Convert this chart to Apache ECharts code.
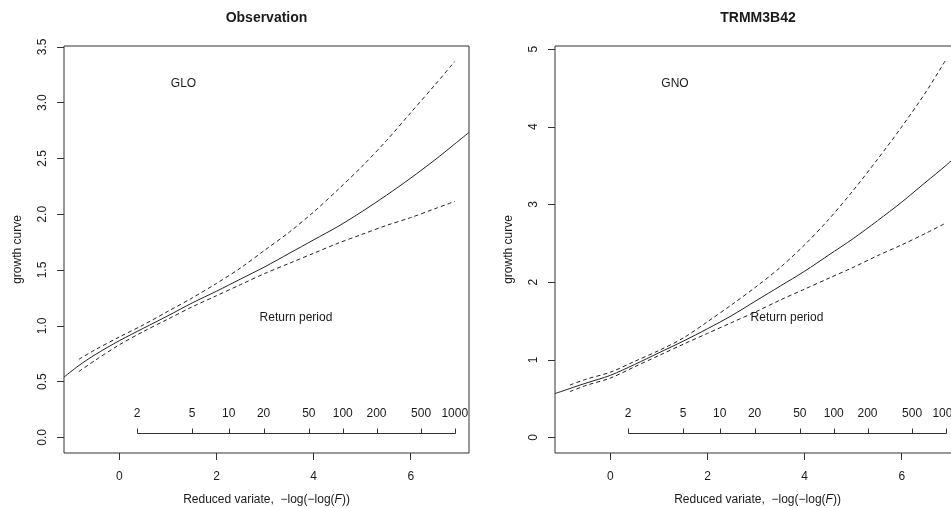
<!DOCTYPE html>
<html>
<head>
<meta charset="utf-8">
<script src="https://cdn.jsdelivr.net/npm/echarts@6/dist/echarts.min.js"></script>
<style>
html,body{margin:0;padding:0;background:#fff;}
#c{width:951px;height:508px;}
</style>
</head>
<body>
<div id="c"></div>
<script>
// ---- data ----
const xSolid = [-1.14,-0.834,-0.5,0,0.5,1,1.5,2,2.5,3,3.5,4,4.5,5,5.5,6,6.5,6.907,7.2];
const xBand  = [-0.834,-0.5,0,0.5,1,1.5,2,2.5,3,3.5,4,4.5,5,5.5,6,6.5,6.907];

const obsSolid = [0.54,0.644,0.741,0.867,0.979,1.09,1.205,1.31,1.42,1.53,1.65,1.77,1.89,2.025,2.17,2.324,2.488,2.63,2.734];
const obsUpper = [0.70,0.785,0.90,1.01,1.13,1.25,1.38,1.52,1.68,1.84,2.02,2.22,2.43,2.66,2.91,3.16,3.37];
const obsLower = [0.59,0.69,0.83,0.95,1.06,1.17,1.27,1.37,1.47,1.56,1.65,1.74,1.82,1.90,1.97,2.05,2.115];

const trmSolid = [0.565,0.63,0.70,0.80,0.94,1.09,1.24,1.40,1.57,1.76,1.95,2.14,2.35,2.56,2.79,3.03,3.29,3.50,3.67];
const trmUpper = [0.675,0.75,0.84,0.98,1.12,1.28,1.49,1.71,1.94,2.19,2.48,2.81,3.18,3.58,4.00,4.45,4.86];
const trmLower = [0.59,0.67,0.765,0.91,1.055,1.20,1.34,1.48,1.62,1.77,1.91,2.05,2.19,2.34,2.48,2.63,2.76];

const returnPeriods = [2,5,10,20,50,100,200,500,1000];
const xTicks = [0,2,4,6];
const yTicksObs = [0,0.5,1,1.5,2,2.5,3,3.5];
const yTicksTrm = [0,1,2,3,4,5];

const titles = ['Observation','TRMM3B42'];
const distNames = ['GLO','GNO'];
const rpLabel = 'Return period';
const yName = 'growth curve';

// ---- build ----
const FONT = 'Liberation Sans, Arial, sans-serif';
const TXT = '#1a1a1a';
const LINE = '#222';
const zip = (a,b) => a.map((v,i)=>[v,b[i]]);
const rpX = returnPeriods.map(T => -Math.log(-Math.log(1 - 1/T)));
const rpData = returnPeriods.map((T,i)=>[rpX[i], T]);

const grids = [
  {left:64, top:46, width:405, height:407, show:true, borderColor:'#333', borderWidth:1, backgroundColor:'transparent', outerBoundsMode:'none', containLabel:false},
  {left:555, top:46, width:405, height:407, show:true, borderColor:'#333', borderWidth:1, backgroundColor:'transparent', outerBoundsMode:'none', containLabel:false}
];
const yRanges = [[-0.14,3.508],[-0.20,5.04]];

function xAxisFor(i){
  return {
    type:'value', gridIndex:i, min:-1.14, max:7.2,
    splitLine:{show:false}, axisLine:{show:false, onZero:false},
    axisTick:{show:true, customValues:xTicks, length:7, lineStyle:{color:'#333'}},
    axisLabel:{customValues:xTicks, margin:18, fontSize:12, color:TXT, fontFamily:FONT},
    name:'{a|Reduced variate,  \u2212log(\u2212log(}{i|F}{a|))}', nameLocation:'middle', nameGap:41,
    nameTextStyle:{rich:{a:{fontSize:12,color:TXT,fontFamily:FONT}, i:{fontSize:12,color:TXT,fontFamily:FONT,fontStyle:'italic'}}}
  };
}
function yAxisFor(i, ticks, dec){
  return {
    type:'value', gridIndex:i, min:yRanges[i][0], max:yRanges[i][1],
    splitLine:{show:false}, axisLine:{show:false, onZero:false},
    axisTick:{show:true, customValues:ticks, length:7, lineStyle:{color:'#333'}},
    axisLabel:{customValues:ticks, rotate:90, margin:15, fontSize:12, color:TXT, fontFamily:FONT,
      formatter:v=>v.toFixed(dec)},
    name:yName, nameLocation:'middle', nameGap:40, nameRotate:90,
    nameTextStyle:{fontSize:12,color:TXT,fontFamily:FONT}
  };
}

function rpSeries(i){
  const ymin = yRanges[i][0];
  return {
    type:'custom', xAxisIndex:i, yAxisIndex:i, data:rpData, clip:false, silent:true,
    renderItem:function(params, api){
      const x = api.value(0), T = api.value(1);
      const p = api.coord([x, ymin]);
      const by = Math.round(p[1] - 20) + 0.5;
      const px = Math.round(p[0]) + 0.5;
      const children = [
        {type:'line', shape:{x1:px,y1:by,x2:px,y2:by-5}, style:{stroke:'#333',lineWidth:1}},
        {type:'text', x:p[0], y:by-20, style:{text:String(T), textAlign:'center', textVerticalAlign:'middle', fontSize:12, fontFamily:FONT, fill:TXT}}
      ];
      if(params.dataIndex===0){
        const q = api.coord([rpX[rpX.length-1], ymin]);
        children.push({type:'line', shape:{x1:px,y1:by,x2:Math.round(q[0])+0.5,y2:by}, style:{stroke:'#333',lineWidth:1}});
        const m = api.coord([(rpX[0]+rpX[rpX.length-1])/2, ymin]);
        children.push({type:'text', x:m[0], y:p[1]-135, style:{text:rpLabel, textAlign:'center', textVerticalAlign:'middle', fontSize:12, fontFamily:FONT, fill:TXT}});
      }
      return {type:'group', children};
    }
  };
}

function lineSeries(i, xs, ys, dashed){
  return {
    type:'line', xAxisIndex:i, yAxisIndex:i, data:zip(xs,ys), smooth:0.3, symbol:'none', silent:true,
    lineStyle:{color:LINE, width:1, type: dashed ? [4,3] : 'solid'}
  };
}

const option = {
  animation:false,
  backgroundColor:'#fff',
  grid:grids,
  xAxis:[xAxisFor(0), xAxisFor(1)],
  yAxis:[yAxisFor(0, yTicksObs, 1), yAxisFor(1, yTicksTrm, 0)],
  graphic:[
    {type:'text', x:266.5, y:18, style:{text:titles[0], textAlign:'center', textVerticalAlign:'middle', fontSize:14, fontWeight:'bold', fontFamily:FONT, fill:TXT}},
    {type:'text', x:758, y:18, style:{text:titles[1], textAlign:'center', textVerticalAlign:'middle', fontSize:14, fontWeight:'bold', fontFamily:FONT, fill:TXT}},
    {type:'text', x:183.5, y:84, style:{text:distNames[0], textAlign:'center', textVerticalAlign:'middle', fontSize:12, fontFamily:FONT, fill:TXT}},
    {type:'text', x:675, y:84, style:{text:distNames[1], textAlign:'center', textVerticalAlign:'middle', fontSize:12, fontFamily:FONT, fill:TXT}}
  ],
  series:[
    lineSeries(0, xSolid, obsSolid, false),
    lineSeries(0, xBand, obsUpper, true),
    lineSeries(0, xBand, obsLower, true),
    rpSeries(0),
    lineSeries(1, xSolid, trmSolid, false),
    lineSeries(1, xBand, trmUpper, true),
    lineSeries(1, xBand, trmLower, true),
    rpSeries(1)
  ]
};
echarts.init(document.getElementById('c'), null, {renderer:'canvas'}).setOption(option);
</script>
</body>
</html>
